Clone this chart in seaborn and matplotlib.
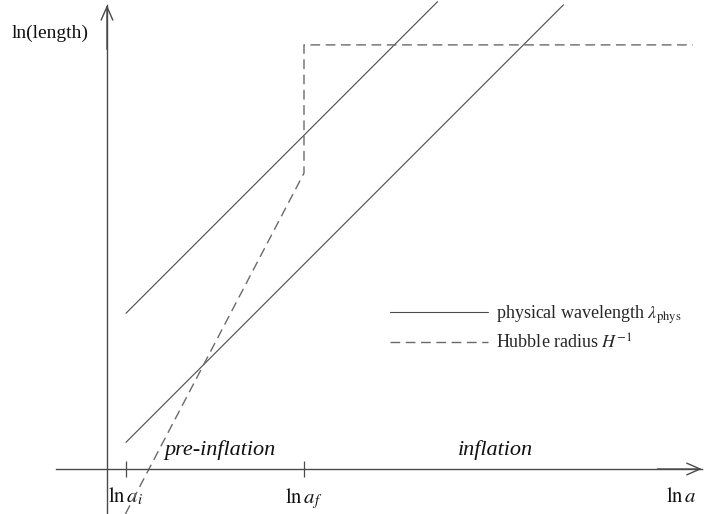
import numpy as np
import pandas as pd
import matplotlib
matplotlib.use("Agg")
import matplotlib.pyplot as plt
import seaborn as sns
from matplotlib.lines import Line2D

# ln a positions of the start and end of the pre-inflation era
tick_positions = [0.0, 4.0]
tick_labels = [r"$\ln a_i$", r"$\ln a_f$"]

# physical wavelength of two comoving modes (ln length vs ln a)
mode_long_x = [0.0, 7.0]
mode_long_y = [3.5, 10.5]
mode_short_x = [0.0, 9.83]
mode_short_y = [0.6, 10.43]

# Hubble radius: growing before inflation, constant during inflation
hubble_x = [-0.013, 4.0, 4.0, 12.74]
hubble_y = [-1.011, 6.65, 9.53, 9.53]

sns.set_theme(style="white")
plt.rcParams["font.family"] = ["Liberation Serif", "DejaVu Serif"]
plt.rcParams["mathtext.fontset"] = "stix"

fig = plt.figure(figsize=(7.05, 5.14), dpi=100)
ax = fig.add_axes([0, 0, 1, 1])
ax.set_xlim(-2.831, 13.011)
ax.set_ylim(-1.011, 10.539)

line_color = "#4a4a4a"
dash_color = "#6a6a6a"

for xs, ys in [(mode_long_x, mode_long_y), (mode_short_x, mode_short_y)]:
    df = pd.DataFrame({"lna": xs, "lnlen": ys})
    sns.lineplot(data=df, x="lna", y="lnlen", ax=ax, color=line_color,
                 lw=0.8, estimator=None, sort=False)

hub = pd.DataFrame({"lna": hubble_x, "lnlen": hubble_y})
sns.lineplot(data=hub, x="lna", y="lnlen", ax=ax, color=dash_color,
             lw=1.0, estimator=None, sort=False, dashes=False,
             linestyle=(0, (7, 4)))

# axes through the origin with open arrowheads
x_axis_at = -0.427
x_start, x_tip = -1.573, 12.94
y_tip = 10.427
for side in ["top", "right"]:
    ax.spines[side].set_visible(False)
ax.spines["bottom"].set_position(("data", 0.0))
ax.spines["left"].set_position(("data", x_axis_at))
ax.spines["bottom"].set_bounds(x_start, x_tip)
ax.spines["left"].set_bounds(-1.011, y_tip)
for side in ["bottom", "left"]:
    ax.spines[side].set_color(line_color)
    ax.spines[side].set_linewidth(1.0)

arrow = dict(arrowstyle="->,head_length=0.8,head_width=0.35",
             color=line_color, lw=1.0, shrinkA=0, shrinkB=0)
ax.annotate("", xy=(x_tip, 0), xytext=(x_tip - 1.0, 0), arrowprops=arrow,
            annotation_clip=False)
ax.annotate("", xy=(x_axis_at, y_tip), xytext=(x_axis_at, y_tip - 1.0),
            arrowprops=arrow, annotation_clip=False)

ax.set_xticks(tick_positions)
ax.set_xticklabels(tick_labels)
ax.set_yticks([])
ax.tick_params(axis="x", direction="inout", length=11.5, width=0.9,
               color=line_color, pad=6.5, labelsize=15, labelcolor="#111111",
               bottom=True)
ax.set_xlabel("")
ax.set_ylabel("")

ax.text(12.47, -0.63, r"$\ln a$", ha="center", va="center", fontsize=15,
        color="#111111")
ax.text(-1.708, 9.80, "ln(length)", ha="center", va="center", fontsize=14,
        color="#111111")
ax.text(2.11, 0.43, "pre-inflation", ha="center", va="center", fontsize=16,
        style="italic", color="#111111")
ax.text(8.29, 0.43, "inflation", ha="center", va="center", fontsize=16,
        style="italic", color="#111111")

handles = [
    Line2D([], [], color=line_color, lw=0.8),
    Line2D([], [], color=dash_color, lw=1.0, linestyle=(0, (7, 4))),
]
labels = [r"physical wavelength $\lambda_{\rm phys}$", r"Hubble radius $H^{-1}$"]
ax.legend(handles, labels, loc="center left", bbox_to_anchor=(0.5535, 0.362),
          frameon=False, fontsize=13, handlelength=5.4, handletextpad=0.45,
          labelspacing=0.4, borderpad=0, borderaxespad=0)

fig.savefig("out.png", dpi=100, facecolor="white")
